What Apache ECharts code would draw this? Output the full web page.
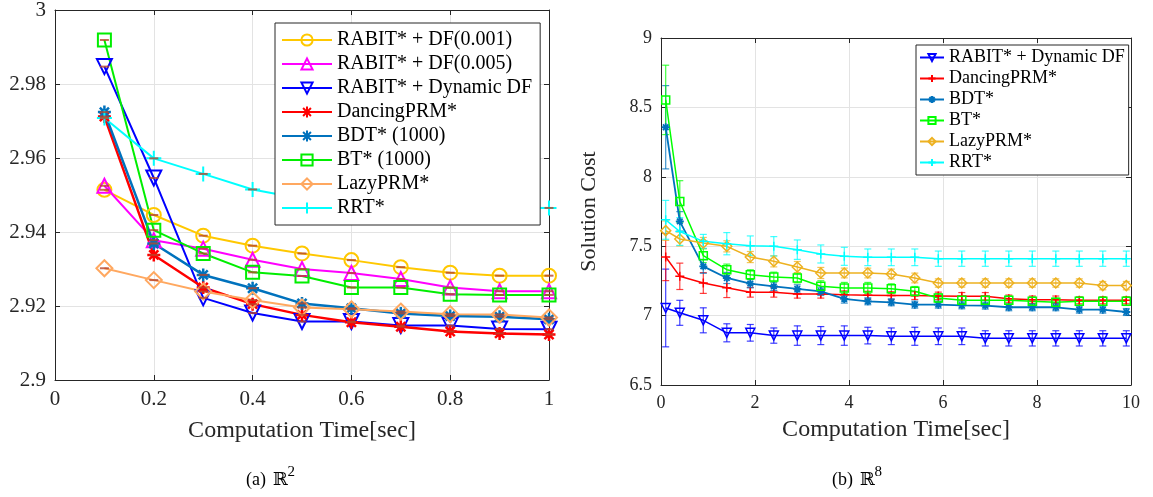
<!DOCTYPE html>
<html>
<head>
<meta charset="utf-8">
<script src="https://cdn.jsdelivr.net/npm/echarts@6/dist/echarts.min.js"></script>
<style>
  body { margin: 0; background: #fff; }
  #chartA { position: absolute; left: 0; top: 0; width: 580px; height: 497px; }
  #chartB { position: absolute; left: 580px; top: 0; width: 573px; height: 497px; }
</style>
</head>
<body>
<div id="chartA"></div>
<div id="chartB"></div>
<script>
// ---- (a) R^2 ----
var timeA = [0.1, 0.2, 0.3, 0.4, 0.5, 0.6, 0.7, 0.8, 0.9, 1.0];
var df001 = [2.9514, 2.9446, 2.9390, 2.9363, 2.9342, 2.9324, 2.9305, 2.9290, 2.9282, 2.9282];
var df005 = [2.9525, 2.9378, 2.9355, 2.9325, 2.9300, 2.9289, 2.9273, 2.9250, 2.9240, 2.9240];
var dynA = [2.9847, 2.9546, 2.9222, 2.9181, 2.9158, 2.9158, 2.9147, 2.9147, 2.9138, 2.9137];
var dancingA = [2.9712, 2.9338, 2.9250, 2.9205, 2.9176, 2.9156, 2.9144, 2.9131, 2.9126, 2.9123];
var bdtA = [2.9724, 2.9369, 2.9284, 2.9248, 2.9207, 2.9194, 2.9180, 2.9173, 2.9171, 2.9164];
var btA = [2.9919, 2.9405, 2.9342, 2.9291, 2.9281, 2.9250, 2.9250, 2.9232, 2.9230, 2.9230];
var lazyA = [2.9302, 2.9270, 2.9239, 2.9216, 2.9196, 2.9191, 2.9185, 2.9178, 2.9177, 2.9169];
var rrtA = [2.9708, 2.9599, 2.9557, 2.9515, 2.9490, 2.9480, 2.9472, 2.9468, 2.9466, 2.9465];

// ---- (b) R^8 ----
var timeB = [0.1, 0.4, 0.9, 1.4, 1.9, 2.4, 2.9, 3.4, 3.9, 4.4, 4.9, 5.4, 5.9, 6.4, 6.9, 7.4, 7.9, 8.4, 8.9, 9.4, 9.9];
var dynB = [7.055, 7.02, 6.966, 6.876, 6.876, 6.856, 6.856, 6.856, 6.856, 6.856, 6.851, 6.851, 6.851, 6.851, 6.836, 6.836, 6.836, 6.836, 6.836, 6.836, 6.836];
var dynErr = [0.28, 0.09, 0.09, 0.065, 0.06, 0.055, 0.07, 0.065, 0.07, 0.06, 0.06, 0.065, 0.06, 0.06, 0.055, 0.055, 0.055, 0.055, 0.055, 0.055, 0.055];
var dancingB = [7.422, 7.283, 7.235, 7.2, 7.168, 7.168, 7.156, 7.156, 7.15, 7.147, 7.144, 7.144, 7.142, 7.139, 7.139, 7.122, 7.115, 7.115, 7.11, 7.11, 7.11];
var dancingErr = [0.17, 0.095, 0.075, 0.07, 0.035, 0.035, 0.03, 0.03, 0.028, 0.028, 0.028, 0.028, 0.027, 0.027, 0.027, 0.026, 0.026, 0.026, 0.025, 0.025, 0.025];
var bdtB = [8.357, 7.679, 7.355, 7.271, 7.23, 7.211, 7.192, 7.175, 7.12, 7.103, 7.096, 7.079, 7.079, 7.074, 7.072, 7.06, 7.06, 7.06, 7.043, 7.043, 7.026];
var bdtErr = [0.3, 0.07, 0.05, 0.04, 0.03, 0.03, 0.03, 0.03, 0.03, 0.025, 0.025, 0.025, 0.025, 0.025, 0.025, 0.025, 0.025, 0.025, 0.025, 0.025, 0.025];
var btB = [8.554, 7.822, 7.432, 7.331, 7.295, 7.278, 7.271, 7.211, 7.199, 7.199, 7.194, 7.175, 7.127, 7.11, 7.11, 7.11, 7.103, 7.096, 7.103, 7.103, 7.103];
var btErr = [0.25, 0.15, 0.05, 0.04, 0.035, 0.035, 0.035, 0.04, 0.04, 0.04, 0.035, 0.035, 0.03, 0.03, 0.03, 0.03, 0.03, 0.03, 0.03, 0.03, 0.03];
var lazyB = [7.612, 7.552, 7.523, 7.499, 7.422, 7.391, 7.35, 7.307, 7.307, 7.307, 7.3, 7.271, 7.235, 7.235, 7.235, 7.235, 7.235, 7.235, 7.235, 7.216, 7.216];
var lazyErr = [0.07, 0.05, 0.04, 0.04, 0.04, 0.04, 0.04, 0.04, 0.035, 0.035, 0.035, 0.035, 0.03, 0.03, 0.03, 0.03, 0.03, 0.03, 0.03, 0.03, 0.03];
var rrtB = [7.69, 7.606, 7.535, 7.518, 7.504, 7.499, 7.475, 7.444, 7.427, 7.42, 7.42, 7.42, 7.41, 7.41, 7.41, 7.41, 7.41, 7.41, 7.41, 7.41, 7.41];
var rrtErr = [0.14, 0.1, 0.05, 0.08, 0.07, 0.07, 0.07, 0.065, 0.065, 0.06, 0.06, 0.06, 0.055, 0.055, 0.055, 0.055, 0.055, 0.055, 0.055, 0.055, 0.055];

var FONT = '"Liberation Serif", "DejaVu Serif", serif';
var STAR = 'path://M5,0L5,10M0,5L10,5M1.5,1.5L8.5,8.5M8.5,1.5L1.5,8.5';
var PLUS = 'path://M5,0L5,10M0,5L10,5';

function pairs(xs, ys) {
    var out = [];
    for (var i = 0; i < xs.length; i++) out.push([xs[i], ys[i]]);
    return out;
}

function lineSeries(name, xs, ys, color, symbol, size, width, rotate) {
    return {
        name: name,
        type: 'line',
        data: pairs(xs, ys),
        symbol: symbol,
        symbolSize: size,
        symbolRotate: rotate || 0,
        showAllSymbol: true,
        lineStyle: { color: color, width: width },
        itemStyle: { color: 'rgba(255,255,255,0)', borderColor: color, borderWidth: width },
        emphasis: { disabled: true },
        animation: false,
        z: 3
    };
}

function boxAxes(min, max, interval, fontSize, isX, name, nameGap, nameSize) {
    var common = {
        type: 'value', min: min, max: max, interval: interval,
        axisLine: { show: true, onZero: false, lineStyle: { color: '#262626', width: 1 } },
        axisTick: { show: true, inside: true, length: 5, lineStyle: { color: '#262626' } }
    };
    var main = Object.assign({}, common, {
        position: isX ? 'bottom' : 'left',
        name: name, nameLocation: 'middle', nameGap: nameGap,
        nameTextStyle: { fontFamily: FONT, fontSize: nameSize, color: '#262626' },
        axisLabel: { fontFamily: FONT, fontSize: fontSize, color: '#262626', margin: 9 },
        splitLine: { show: true, lineStyle: { color: '#e3e3e3', width: 1 } }
    });
    var other = Object.assign({}, common, {
        position: isX ? 'top' : 'right',
        axisLabel: { show: false },
        splitLine: { show: false }
    });
    return [main, other];
}

function caption(letter, sup, left) {
    return {
        type: 'text', left: left, top: 465,
        style: {
            text: '{n|(' + letter + ')}  {r|ℝ}{s|' + sup + '}',
            rich: {
                n: { fontFamily: FONT, fontSize: 18, fill: '#000', lineHeight: 24, verticalAlign: 'bottom' },
                r: { fontFamily: '"DejaVu Serif", serif', fontSize: 18, fill: '#000', lineHeight: 24, verticalAlign: 'bottom' },
                s: { fontFamily: FONT, fontSize: 15, fill: '#000', lineHeight: 24, verticalAlign: 'top' }
            }
        }
    };
}

// ---------- chart (a) ----------
var chartA = echarts.init(document.getElementById('chartA'));
var namesA = ['RABIT* + DF(0.001)', 'RABIT* + DF(0.005)', 'RABIT* + Dynamic DF', 'DancingPRM*', 'BDT* (1000)', 'BT* (1000)', 'LazyPRM*', 'RRT*'];
var seriesA = [
    lineSeries(namesA[0], timeA, df001, '#FFC800', 'circle', 14, 2),
    lineSeries(namesA[1], timeA, df005, '#FF00FF', 'triangle', 14, 2),
    lineSeries(namesA[2], timeA, dynA, '#0000FF', 'triangle', 15, 2, 180),
    lineSeries(namesA[3], timeA, dancingA, '#FF0000', STAR, 13, 2.5),
    lineSeries(namesA[4], timeA, bdtA, '#0072BD', STAR, 13, 2.5),
    lineSeries(namesA[5], timeA, btA, '#00EE00', 'rect', 13, 2),
    lineSeries(namesA[6], timeA, lazyA, '#FFA860', 'diamond', 16, 2),
    lineSeries(namesA[7], timeA, rrtA, '#00FFFF', PLUS, 15, 2)
];
// tiny error ticks at each mean
var allA = [df001, df005, dynA, dancingA, bdtA, btA, lazyA, rrtA];
var tickData = [];
for (var s = 0; s < allA.length; s++) {
    for (var k = 0; k < timeA.length; k++) tickData.push([timeA[k], allA[s][k]]);
}
seriesA.push({
    type: 'scatter', data: tickData, symbol: 'rect', symbolSize: [9, 2],
    itemStyle: { color: '#B8452A' }, silent: true, animation: false, z: 4
});

var axA = boxAxes(0, 1, 0.2, 21, true, 'Computation Time[sec]', 39, 24);
var ayA = boxAxes(2.9, 3, 0.02, 21, false, '', 0, 21);

chartA.setOption({
    animation: false,
    grid: { left: 55, right: 31, top: 10, bottom: 117, containLabel: false, outerBoundsMode: 'none' },
    xAxis: axA,
    yAxis: ayA,
    legend: {
        data: namesA, orient: 'vertical', left: 275, top: 23,
        backgroundColor: '#fff', borderColor: '#262626', borderWidth: 1,
        padding: [7, 8, 7, 6], itemWidth: 50, itemHeight: 14, itemGap: 4,
        textStyle: { fontFamily: FONT, fontSize: 20, color: '#000', lineHeight: 20 },
        selectedMode: false, z: 10
    },
    graphic: [caption('a', '2', 246)],
    series: seriesA
});

// ---------- chart (b) ----------
var chartB = echarts.init(document.getElementById('chartB'));
var namesB = ['RABIT* + Dynamic DF', 'DancingPRM*', 'BDT*', 'BT*', 'LazyPRM*', 'RRT*'];
var colorsB = ['#0000FF', '#FF0000', '#0072BD', '#00FF00', '#EDB120', '#00FFFF'];
var valsB = [dynB, dancingB, bdtB, btB, lazyB, rrtB];
var errsB = [dynErr, dancingErr, bdtErr, btErr, lazyErr, rrtErr];

function errRender(color) {
    return function (params, api) {
        var x = api.value(0), lo = api.value(1), hi = api.value(2);
        var a = api.coord([x, hi]), b = api.coord([x, lo]);
        var w = 3.5;
        var st = { stroke: color, lineWidth: 1.2, opacity: 0.75 };
        return {
            type: 'group',
            children: [
                { type: 'line', shape: { x1: a[0], y1: a[1], x2: b[0], y2: b[1] }, style: st },
                { type: 'line', shape: { x1: a[0] - w, y1: a[1], x2: a[0] + w, y2: a[1] }, style: st },
                { type: 'line', shape: { x1: b[0] - w, y1: b[1], x2: b[0] + w, y2: b[1] }, style: st }
            ]
        };
    };
}

var seriesB = [
    lineSeries(namesB[0], timeB, dynB, colorsB[0], 'triangle', 9, 1.5, 180),
    lineSeries(namesB[1], timeB, dancingB, colorsB[1], PLUS, 9, 1.5),
    lineSeries(namesB[2], timeB, bdtB, colorsB[2], STAR, 8, 1.8),
    lineSeries(namesB[3], timeB, btB, colorsB[3], 'rect', 8, 1.5),
    lineSeries(namesB[4], timeB, lazyB, colorsB[4], 'diamond', 10, 1.5),
    lineSeries(namesB[5], timeB, rrtB, colorsB[5], PLUS, 9, 1.5)
];
for (var j = 0; j < valsB.length; j++) {
    var ed = [];
    for (var k2 = 0; k2 < timeB.length; k2++) {
        ed.push([timeB[k2], valsB[j][k2] - errsB[j][k2], valsB[j][k2] + errsB[j][k2]]);
    }
    seriesB.push({
        type: 'custom', renderItem: errRender(colorsB[j]), data: ed,
        encode: { x: 0, y: [1, 2] }, silent: true, animation: false, z: 2
    });
}

var axB = boxAxes(0, 10, 2, 18, true, 'Computation Time[sec]', 33, 24);
var ayB = boxAxes(6.5, 9, 0.5, 18, false, 'Solution Cost', 61, 22);

chartB.setOption({
    animation: false,
    grid: { left: 81, right: 22, top: 38, bottom: 112, containLabel: false, outerBoundsMode: 'none' },
    xAxis: axB,
    yAxis: ayB,
    legend: {
        data: namesB, orient: 'vertical', left: 336, top: 45,
        backgroundColor: '#fff', borderColor: '#262626', borderWidth: 1,
        padding: [3, 4, 3, 3], itemWidth: 24, itemHeight: 9, itemGap: 2,
        textStyle: { fontFamily: FONT, fontSize: 18, color: '#000', lineHeight: 19 },
        selectedMode: false, z: 10
    },
    graphic: [caption('b', '8', 252)],
    series: seriesB
});
</script>
</body>
</html>
